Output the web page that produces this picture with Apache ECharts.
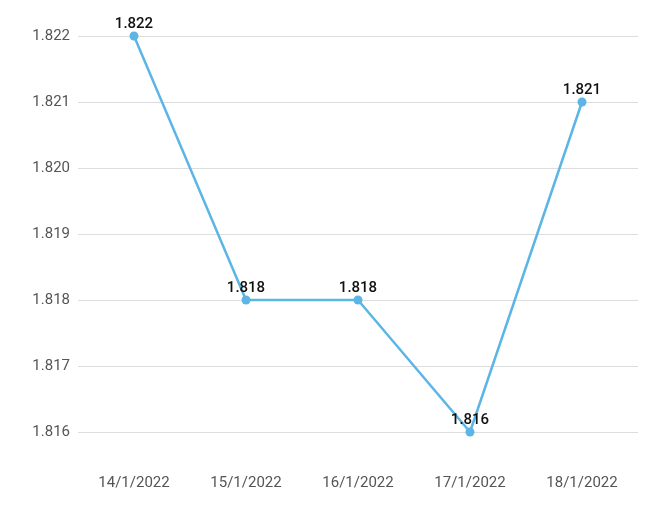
<!DOCTYPE html>
<html><head><meta charset="utf-8">
<script src="https://cdn.jsdelivr.net/npm/echarts@6/dist/echarts.min.js"></script>
<style>html,body{margin:0;padding:0;background:#fff}#c{width:660px;height:519px}</style>
</head><body><div id="c"></div>
<script>
const categories = ['14/1/2022','15/1/2022','16/1/2022','17/1/2022','18/1/2022'];
const values = [1.822, 1.818, 1.818, 1.816, 1.821];
const chart = echarts.init(document.getElementById('c'));
chart.setOption({
  animation: false,
  grid: {left: 78, right: 22, top: 36, bottom: 87},
  xAxis: {type: 'category', data: categories,
    axisLine: {show: false}, axisTick: {show: false},
    axisLabel: {color: '#555', fontSize: 15, fontFamily: 'Roboto', margin: 44}},
  yAxis: {type: 'value', min: 1.816, max: 1.822, interval: 0.001,
    axisLabel: {color: '#555', fontSize: 15, fontFamily: 'Roboto', formatter: v => v.toFixed(3), margin: 8},
    splitLine: {lineStyle: {color: '#ddd'}}},
  series: [{type: 'line', data: values, symbol: 'circle', symbolSize: 9,
    lineStyle: {color: '#5bb5e5', width: 2.5}, itemStyle: {color: '#5bb5e5'},
    label: {show: true, position: 'top', color: '#111', fontSize: 15, fontWeight: 500, fontFamily: 'Roboto', distance: 0,
      formatter: p => p.value.toFixed(3)}}]
});
</script></body></html>
